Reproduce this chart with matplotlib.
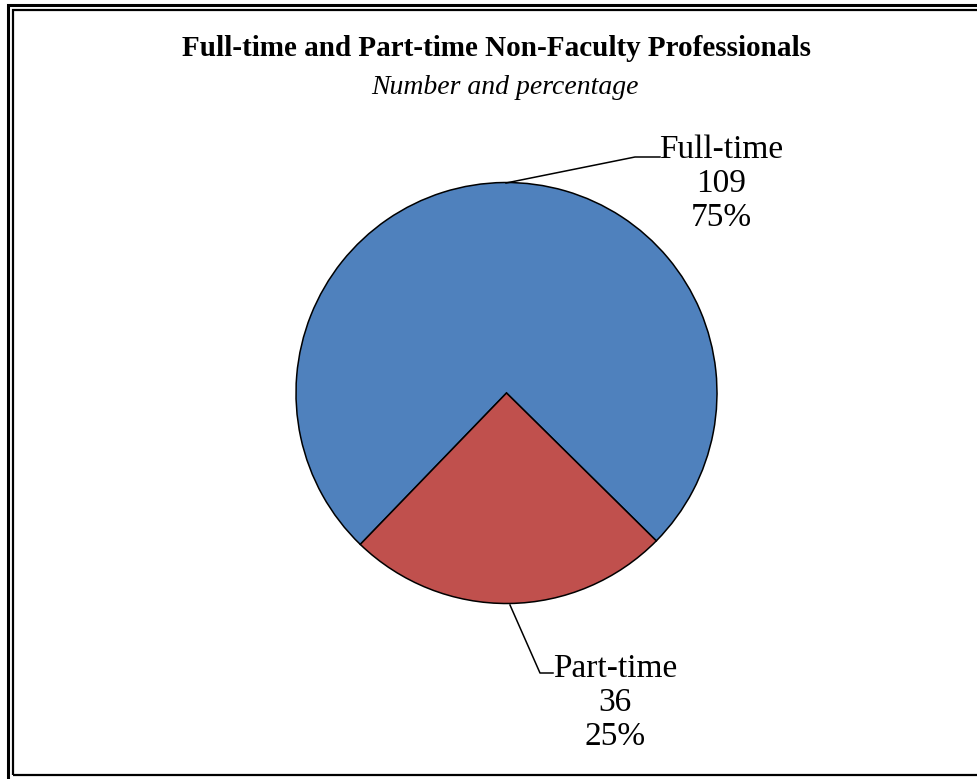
import matplotlib.pyplot as plt
from matplotlib.patches import Rectangle

labels = ['Full-time', 'Part-time']
counts = [109, 36]
colors = ['#4F81BD', '#C0504D']

plt.rcParams['font.family'] = ['Liberation Serif', 'DejaVu Serif']

W, H = 977, 779
fig = plt.figure(figsize=(W / 100, H / 100), dpi=100)

# double border (goes past the right and bottom edge like the original)
fig.patches.append(Rectangle((8 / W, 1 - 1000 / H), 1000 / W, 995 / H,
                             transform=fig.transFigure, fill=False,
                             lw=2.2, ec='black'))
fig.patches.append(Rectangle((13 / W, 1 - 775 / H), 1000 / W, 765 / H,
                             transform=fig.transFigure, fill=False,
                             lw=1.6, ec='black'))

# pie centre (506, 393) px, radius 210 px
cx, cy, r = 506.5, 393, 210.5
ax = fig.add_axes([(cx - r) / W, 1 - (cy + r) / H, 2 * r / W, 2 * r / H])
ax.pie(counts, colors=colors, startangle=226, counterclock=False,
       wedgeprops=dict(edgecolor='black', linewidth=1.1))
ax.set_xlim(-1, 1)
ax.set_ylim(-1, 1)
ax.set_aspect('equal')
ax.axis('off')

total = sum(counts)

def px(x, y):
    return ((x - cx) / r, (cy - y) / r)

label_pos = [px(721, 184), px(615, 703)]
leaders = [[px(506, 183), px(635, 157), px(660, 157)],
           [px(510, 605), px(540, 673), px(553, 673)]]

for lab, n, pos, pts in zip(labels, counts, label_pos, leaders):
    xs = [p[0] for p in pts]
    ys = [p[1] for p in pts]
    ax.plot(xs, ys, color='black', lw=1.1, clip_on=False)
    ax.text(pos[0], pos[1], '%s\n%d\n%d%%' % (lab, n, round(100 * n / total)),
            ha='center', va='center', fontsize=24, linespacing=1.14,
            clip_on=False)

fig.text(497 / W, 1 - 56 / H, 'Full-time and Part-time Non-Faculty Professionals',
         ha='center', va='baseline', fontsize=21, fontweight='bold')
fig.text(505 / W, 1 - 94 / H, 'Number and percentage',
         ha='center', va='baseline', fontsize=20, style='italic')

fig.savefig('out.png', dpi=100)
